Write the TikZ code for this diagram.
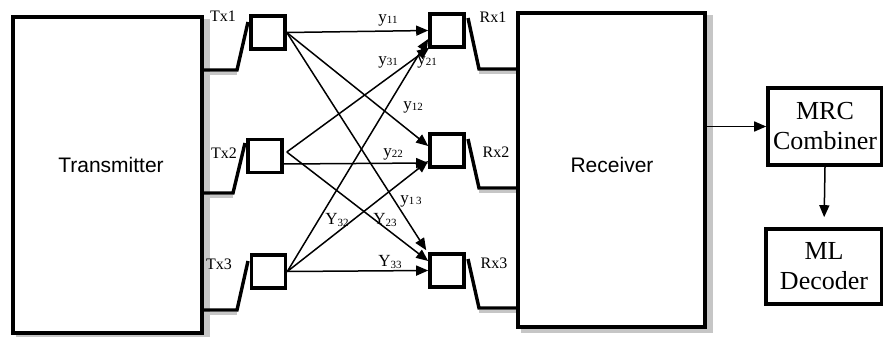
\documentclass[tikz,border=0pt]{standalone}
\usepackage{fontspec}
\setmainfont{Liberation Serif}
\newfontfamily\boxfont{Liberation Sans}
\usetikzlibrary{arrows.meta,calc,backgrounds}
\newcommand\ylab[2]{{\fontsize{17}{17}\selectfont #1}{\fontsize{11}{11}\selectfont\raisebox{-1.5pt}{#2}}}
\begin{document}
\begin{tikzpicture}[x=1pt,y=-1pt,
  bigbox/.style={draw, line width=3.6pt, fill=white, inner sep=0pt},
  antbox/.style={draw, line width=3.6pt, fill=white, inner sep=0pt, minimum width=34pt, minimum height=33pt},
  feed/.style={draw, line width=3.4pt},
  feedshadow/.style={draw, gray!45, line width=3pt},
  shadowc/.style={fill=gray!45},
  conn/.style={draw, line width=1.5pt, -{Triangle[length=12pt,width=10pt]}},
  bigtext/.style={font=\boxfont\fontsize{21}{21}\selectfont},
  smalltext/.style={font=\fontsize{26}{30}\selectfont, align=center},
  antlab/.style={font=\fontsize{16}{16}\selectfont, inner sep=0pt},
  chlab/.style={inner sep=0pt}]
\useasboundingbox (0,0) rectangle (883,337);

% main boxes
\node[bigbox, minimum width=189pt, minimum height=316pt] (tx) at (107.5,175) {};
\node[bigtext] (txt) at (111,165) {Transmitter};
\node[bigbox, minimum width=187pt, minimum height=314pt] (rx) at (611.5,170) {};
\node[bigtext] (rxt) at (612,165) {Receiver};
\node[bigbox, minimum width=114pt, minimum height=77pt, smalltext] (mrc) at (825,126.5) {MRC\\Combiner};
\node[bigbox, minimum width=116pt, minimum height=75pt, smalltext] (ml) at (824,266.5) {ML\\Decoder};

% shadows
\begin{scope}[on background layer]
  \fill[shadowc] ($(tx.north west)+(5,4)$) rectangle ($(tx.south east)+(6,4)$);
  \fill[shadowc] ($(rx.north west)+(5,4)$) rectangle ($(rx.south east)+(6,4)$);
\end{scope}

% antenna boxes
\node[antbox] (t1) at (268,32.5) {};
\node[antbox] (t2) at (265,156) {};
\node[antbox] (t3) at (268.5,271.5) {};
\node[antbox] (r1) at (447,30.5) {};
\node[antbox] (r2) at (447,150.5) {};
\node[antbox] (r3) at (447,270.5) {};

% feed coordinates
\coordinate (f1) at (237,70);  \coordinate (f1t) at (248,22);
\coordinate (f2) at (233,193); \coordinate (f2t) at (245,143);
\coordinate (f3) at (237,310); \coordinate (f3t) at (248,261);
\coordinate (g1t) at (468,18);  \coordinate (g1) at (479,69);
\coordinate (g2t) at (468,139); \coordinate (g2) at (479,188);
\coordinate (g3t) at (468,259); \coordinate (g3) at (479,308);

\begin{scope}[on background layer]
  \foreach \f in {f1,f2,f3}{
    \draw[feedshadow] ($(\f -| tx.east)+(0,3)$) -- ($(\f)+(0,3)$);
  }
  \foreach \g in {g1,g2,g3}{
    \draw[feedshadow] ($(\g)+(0,3)$) -- ($(\g -| rx.west)+(0,3)$);
  }
\end{scope}

\draw[feed] (f1 -| tx.east) -- (f1) -- (f1t);
\draw[feed] (f2 -| tx.east) -- (f2) -- (f2t);
\draw[feed] (f3 -| tx.east) -- (f3) -- (f3t);
\draw[feed] (g1t) -- (g1) -- (g1 -| rx.west);
\draw[feed] (g2t) -- (g2) -- (g2 -| rx.west);
\draw[feed] (g3t) -- (g3) -- (g3 -| rx.west);

% antenna labels
\node[antlab] (tl1) at (223,16) {Tx1};
\node[antlab] (tl2) at (224,153) {Tx2};
\node[antlab] (tl3) at (219,264) {Tx3};
\node[antlab] (rl1) at (493,17) {Rx1};
\node[antlab] (rl2) at (496,152) {Rx2};
\node[antlab] (rl3) at (494,263) {Rx3};

% channel connectors
\coordinate (s2) at ($(t2.east)+(3,-4)$);
\coordinate (s22) at ($(t2.east)+(0,8)$);
\draw[conn] (t1.east) -- (r1.west);
\draw[conn] (t1.east) -- ($(r2.west)+(0,-4.5)$);
\draw[conn] (t1.east) -- ($(r3.north west)+(-2,-2)$);
\draw[conn] (s2) -- ($(r1.south west)+(1,-1)$);
\draw[conn] (s22) -- ($(r2.west)+(0,12.5)$);
\draw[conn] (s2) -- ($(r3.west)+(0,-9.5)$);
\draw[conn] (t3.east) -- ($(r1.west)+(0,8.5)$);
\draw[conn] (t3.east) -- ($(r2.west)+(0,10.5)$);
\draw[conn] (t3.east) -- ($(r3.west)+(0,0)$);

% channel labels
\node[chlab] (l11) at (388,20) {\ylab{y}{11}};
\node[chlab] (l31) at (388,62) {\ylab{y}{31}};
\node[chlab] (l21) at (427,62) {\ylab{y}{21}};
\node[chlab] (l12) at (413,107) {\ylab{y}{12}};
\node[chlab] (l22) at (393,154) {\ylab{y}{22}};
\node[chlab] (l13) at (411,201) {\ylab{y}{1\,3}};
\node[chlab] (l32) at (337,220) {\ylab{Y}{32}};
\node[chlab] (l23) at (385,220) {\ylab{Y}{23}};
\node[chlab] (l33) at (390,262) {\ylab{Y}{33}};

% output arrows
\draw[conn] (rx.east |- mrc.west) -- (mrc.west);
\draw[conn, shorten >=10pt] (mrc.south) -- (ml.north);
\end{tikzpicture}
\end{document}
